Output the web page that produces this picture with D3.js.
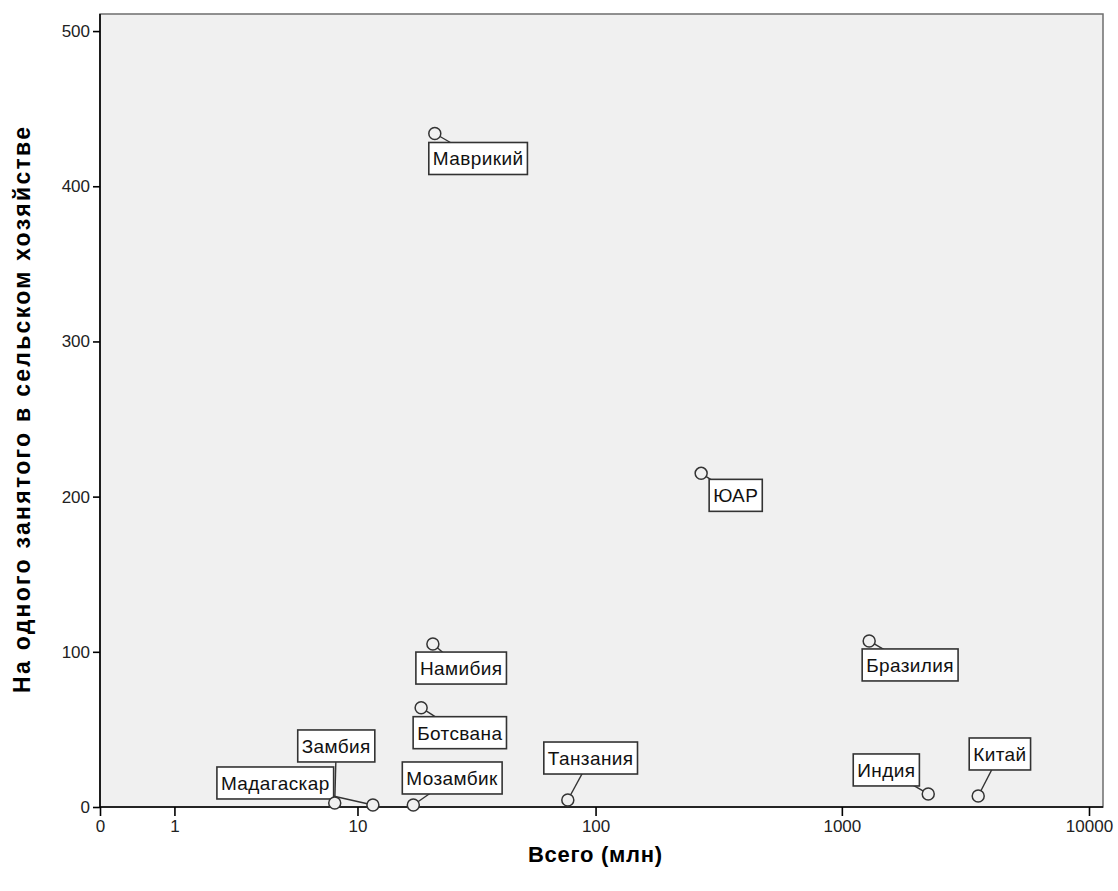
<!DOCTYPE html>
<html>
<head>
<meta charset="utf-8">
<script src="https://cdn.jsdelivr.net/npm/d3@7"></script>
<style>
  body { margin: 0; background: #fff; }
  text { font-family: "Liberation Sans", Arial, sans-serif; }
</style>
</head>
<body>
<svg width="1118" height="891"></svg>
<script>
const PLOT_BG = "#F0F0F0";
const FRAME = "#6E6E6E";
const INK = "#000000";

// Data
const countries = ["Маврикий", "ЮАР", "Намибия", "Ботсвана", "Бразилия", "Мозамбик",
    "Мадагаскар", "Замбия", "Танзания", "Индия", "Китай"];
const totalMln = [21.6, 269, 21.2, 18.9, 1290, 17.5, 11.7, 7.9, 77, 2237, 3563];
const perWorker = [434, 215, 105, 64, 107, 1.3, 1.3, 2.6, 4.5, 8.4, 7.1];

const xTicks = [0, 1, 10, 100, 1000, 10000];
const yTicks = [0, 100, 200, 300, 400, 500];

// label box offsets from the point (layout only)
const labelOffset = [[-6, 9], [8, 6], [-17, 8], [-8, 9], [-7, 8], [-11, -43],
    [-156, -38], [-37, -73], [-24, -58], [-75, -40], [-9, -58]];

// Frame
m = { top: 14, right: 11, bottom: 84, left: 100 };
w = 1118 - m.left - m.right;
h = 891 - m.top - m.bottom;

var svg = d3.select("svg");

var x = d3.scaleSymlog()
    .constant(1)
    .domain([0, 10000])
    .range([m.left, 1089]);

var y = d3.scaleLinear()
    .domain([0, 511])
    .range([m.top + h, m.top]);

svg.append("rect")
    .attr("x", m.left)
    .attr("y", m.top)
    .attr("width", w - 4)
    .attr("height", h)
    .attr("fill", PLOT_BG)
    .attr("stroke", FRAME)
    .attr("stroke-width", 1.5);

// Axes
var xAxis = svg.append("g")
    .attr("transform", `translate(0, ${m.top + h})`)
    .call(d3.axisBottom(x).tickValues(xTicks).tickSize(9).tickPadding(4).tickFormat(d3.format("d")));

var yAxis = svg.append("g")
    .attr("transform", `translate(${m.left}, 0)`)
    .call(d3.axisLeft(y).tickValues(yTicks).tickSize(7).tickPadding(3).tickFormat(d3.format("d")));

[xAxis, yAxis].forEach(function (g) {
    g.select(".domain").attr("stroke", INK).attr("stroke-width", 1.6);
    g.selectAll(".tick line").attr("stroke", INK).attr("stroke-width", 1.6);
    g.selectAll(".tick text")
        .attr("fill", "#222")
        .style("font-size", "17px")
        .style("font-family", "'Liberation Sans', Arial, sans-serif");
});
xAxis.select(".domain").attr("d", `M${m.left},0H${m.left + w - 4}`);
yAxis.select(".domain").attr("d", `M0,${m.top + h}V${m.top}`);

// Axis titles
svg.append("text")
    .attr("x", 595)
    .attr("y", 862)
    .attr("text-anchor", "middle")
    .style("font-size", "22px")
    .style("font-weight", "bold")
    .attr("textLength", 134)
    .attr("lengthAdjust", "spacing")
    .text("Всего (млн)");

svg.append("text")
    .attr("transform", "translate(30, 410) rotate(-90)")
    .attr("text-anchor", "middle")
    .style("font-size", "23px")
    .style("font-weight", "bold")
    .attr("textLength", 566)
    .attr("lengthAdjust", "spacing")
    .text("На одного занятого в сельском хозяйстве");

// Points with labels
var pts = countries.map(function (c, i) {
    return { name: c, px: x(totalMln[i]), py: y(perWorker[i]), off: labelOffset[i] };
});

var lab = svg.append("g").selectAll("g")
    .data(pts)
    .enter().append("g");

var leader = lab.append("line")
    .attr("stroke", "#333")
    .attr("stroke-width", 1.4);

var box = lab.append("rect")
    .attr("fill", "#fff")
    .attr("stroke", "#333")
    .attr("stroke-width", 1.6);

var txt = lab.append("text")
    .style("font-size", "19px")
    .style("letter-spacing", "0.4px")
    .attr("fill", "#111")
    .text(function (d) { return d.name; });

txt.each(function (d) {
    var bb = this.getBBox();
    d.bw = bb.width + 8;
    d.bh = 32;
    d.bx = d.px + d.off[0];
    d.by = d.py + d.off[1];
});

txt.attr("x", function (d) { return d.bx + 4; })
    .attr("y", function (d) { return d.by + 23; });

box.attr("x", function (d) { return d.bx; })
    .attr("y", function (d) { return d.by; })
    .attr("width", function (d) { return d.bw; })
    .attr("height", function (d) { return d.bh; });

leader.attr("x1", function (d) { return d.px; })
    .attr("y1", function (d) { return d.py; })
    .attr("x2", function (d) { return d.bx + d.bw / 2; })
    .attr("y2", function (d) { return d.by + d.bh / 2; });

svg.append("g").selectAll("circle")
    .data(pts)
    .enter().append("circle")
    .attr("cx", function (d) { return d.px; })
    .attr("cy", function (d) { return d.py; })
    .attr("r", 6)
    .attr("fill", PLOT_BG)
    .attr("stroke", "#333")
    .attr("stroke-width", 1.5);
</script>
</body>
</html>
